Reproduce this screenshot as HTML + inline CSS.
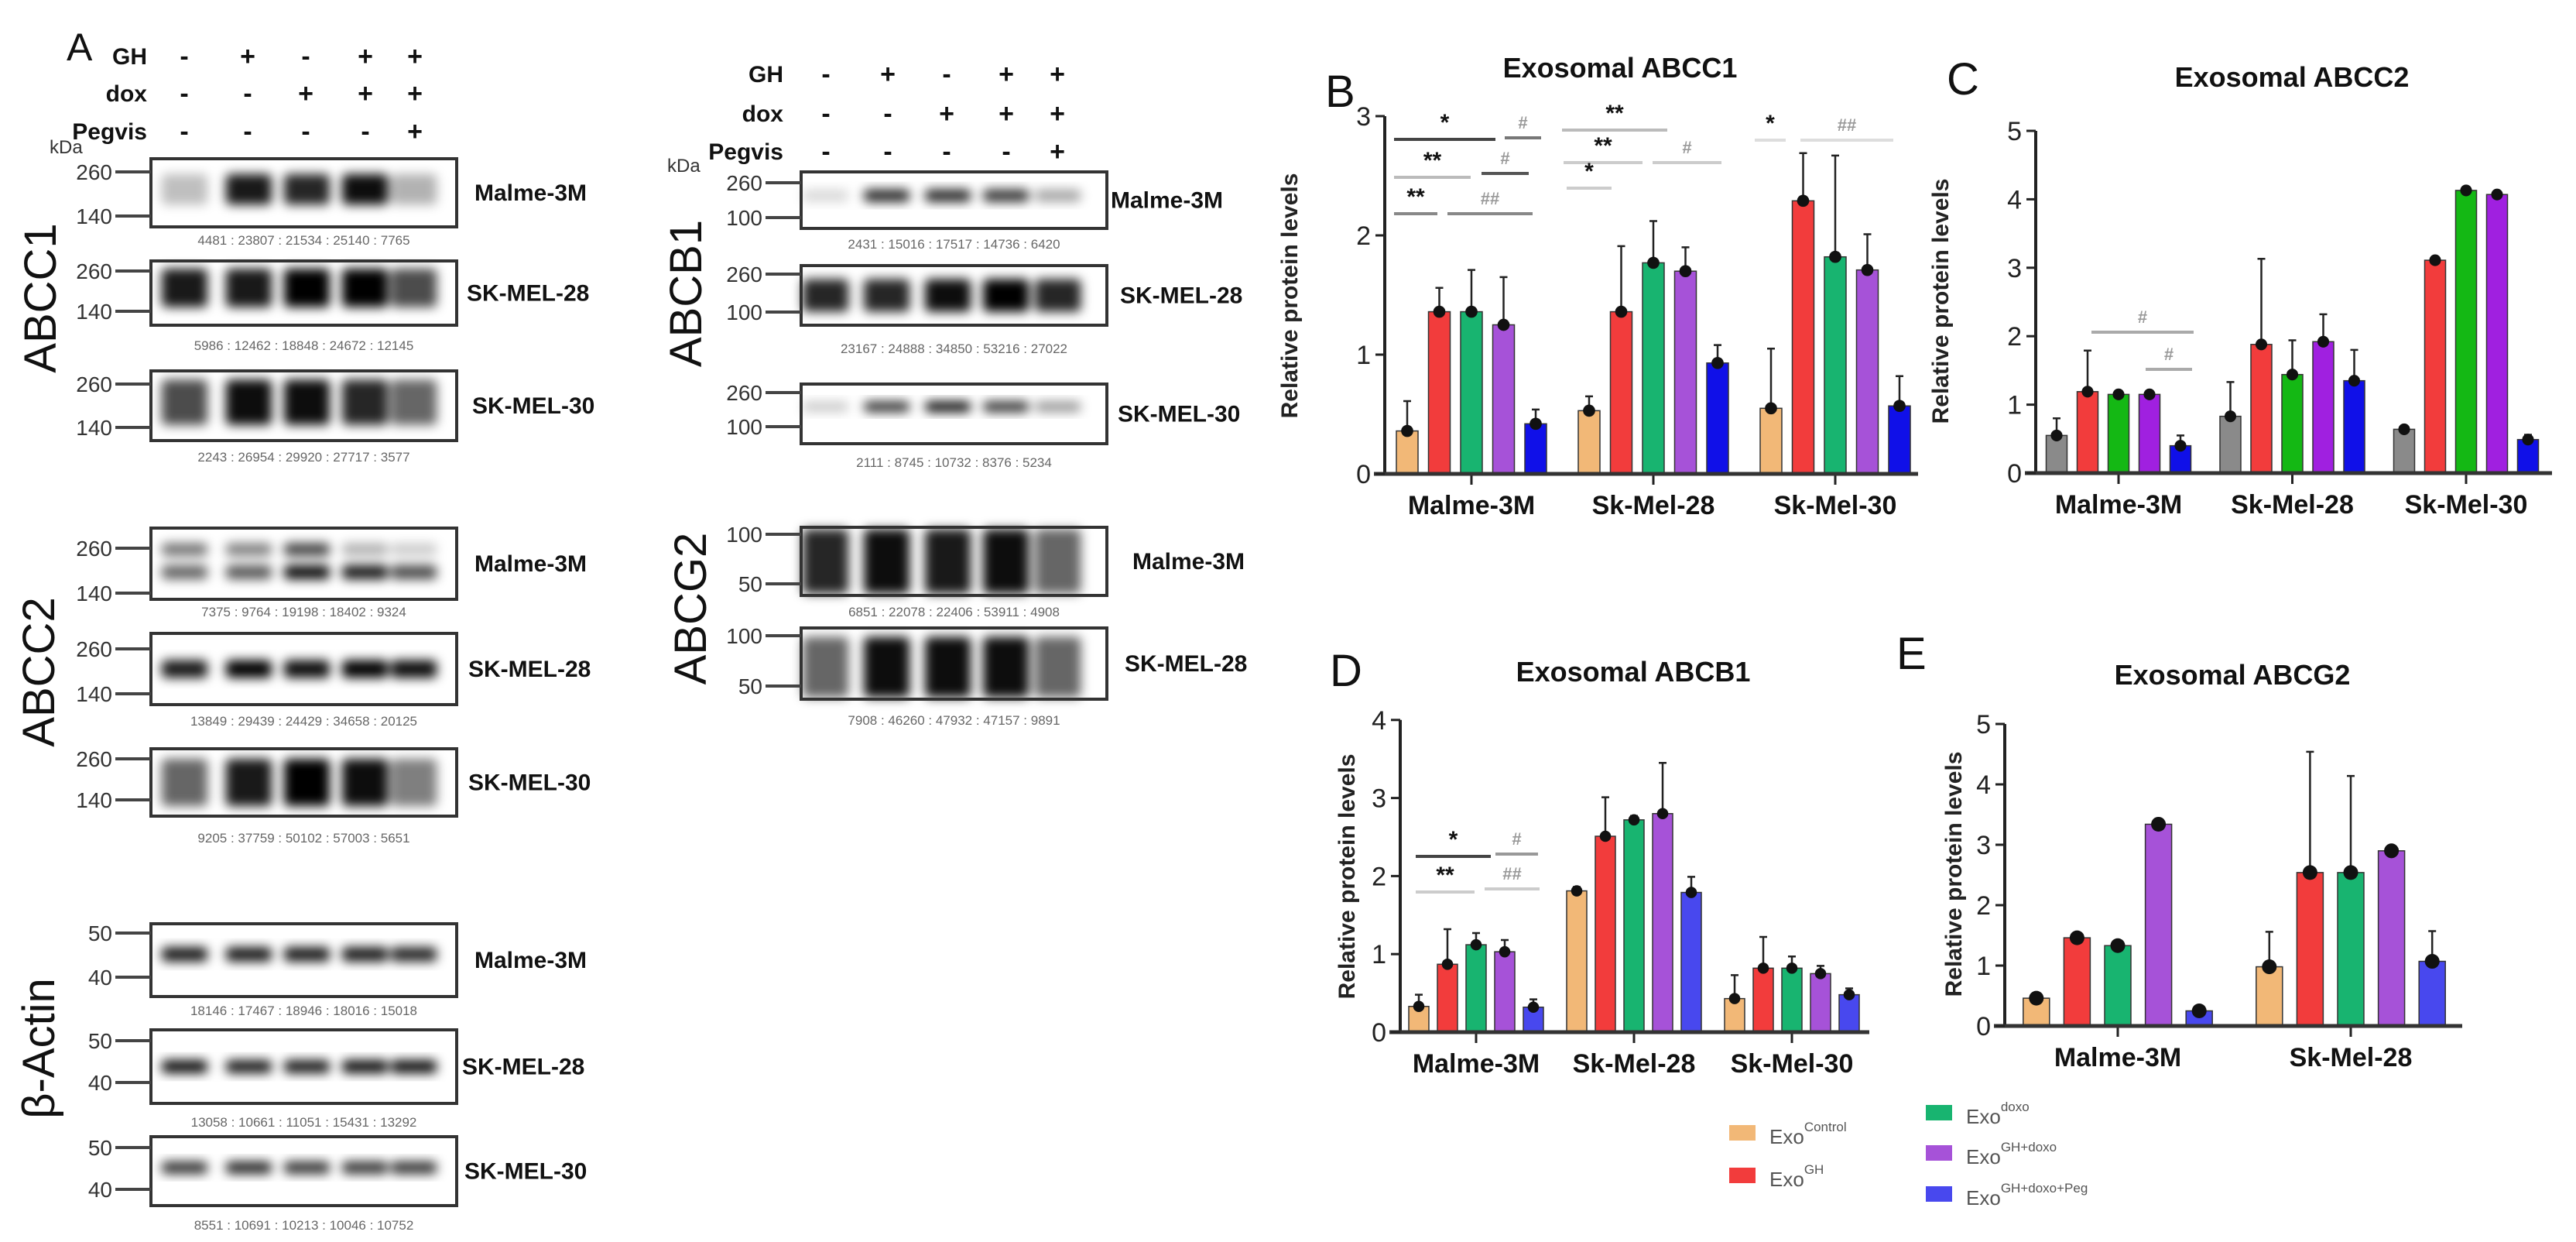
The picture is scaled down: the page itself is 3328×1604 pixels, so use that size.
<!DOCTYPE html>
<html><head><meta charset="utf-8">
<style>
html,body{margin:0;padding:0;background:#fff;}
svg{display:block;font-family:"Liberation Sans",Arial,sans-serif;}
</style></head>
<body>
<svg id="fig" xmlns="http://www.w3.org/2000/svg" width="3328" height="1604" viewBox="0 0 3328 1604">
<defs>
<filter id="blur" x="-30%" y="-60%" width="160%" height="220%"><feGaussianBlur stdDeviation="7"/></filter>
<clipPath id="dummy"><rect x="0" y="0" width="1" height="1"/></clipPath>
</defs>
<rect x="0" y="0" width="3328" height="1604" fill="#fff"/>
<g id="blots"></g>
<g id="charts"></g>
</svg>
<script>
// ===== Chart data =====
const B_categories = ["Malme-3M","Sk-Mel-28","Sk-Mel-30"];
const B_control = [0.36,0.53,0.55];
const B_gh      = [1.36,1.36,2.29];
const B_dox     = [1.36,1.77,1.82];
const B_ghdox   = [1.25,1.70,1.71];
const B_peg     = [0.42,0.93,0.57];
const B_sd = [[0.25,0.2,0.35,0.4,0.12],[0.12,0.55,0.35,0.2,0.15],[0.5,0.4,0.85,0.3,0.25]];
const B_ticks = ["0","1","2","3"];

const C_categories = ["Malme-3M","Sk-Mel-28","Sk-Mel-30"];
const C_control = [0.55,0.83,0.64];
const C_gh      = [1.19,1.88,3.11];
const C_dox     = [1.15,1.44,4.13];
const C_ghdox   = [1.15,1.92,4.07];
const C_peg     = [0.40,1.35,0.49];
const C_sd = [[0.25,0.6,0.05,0.05,0.15],[0.5,1.25,0.5,0.4,0.45],[0.05,0.05,0.05,0.03,0.07]];
const C_ticks = ["0","1","2","3","4","5"];

const D_categories = ["Malme-3M","Sk-Mel-28","Sk-Mel-30"];
const D_control = [0.33,1.81,0.43];
const D_gh      = [0.87,2.51,0.82];
const D_dox     = [1.12,2.72,0.82];
const D_ghdox   = [1.03,2.80,0.75];
const D_peg     = [0.32,1.79,0.48];
const D_sd = [[0.15,0.45,0.15,0.15,0.1],[0.05,0.5,0.05,0.65,0.2],[0.3,0.4,0.15,0.1,0.08]];
const D_ticks = ["0","1","2","3","4"];

const E_categories = ["Malme-3M","Sk-Mel-28"];
const E_control = [0.46,0.98];
const E_gh      = [1.46,2.54];
const E_dox     = [1.33,2.54];
const E_ghdox   = [3.34,2.90];
const E_peg     = [0.25,1.07];
const E_sd = [[0.05,0.08,0.05,0.05,0.08],[0.58,2.0,1.6,0.05,0.5]];
const E_ticks = ["0","1","2","3","4","5"];

const legendLabels = ["Control","GH","doxo","GH+doxo","GH+doxo+Peg"];

// ===== helpers =====
const NS="http://www.w3.org/2000/svg";
function mk(tag, attrs, parent, text){
  const e=document.createElementNS(NS,tag);
  for(const k in attrs) e.setAttribute(k,attrs[k]);
  if(text!==undefined) e.textContent=text;
  parent.appendChild(e); return e;
}
const charts=document.getElementById('charts');
const blots=document.getElementById('blots');

function drawChart(cfg, cats, series, sds, ticks){
  const g=mk('g',{},charts);
  
  
  const yScale=v=>cfg.y0 - v*cfg.ppu;
  const nT=ticks.length-1;
  // panel letter
  const L=mk('text',{x:cfg.letterX,y:cfg.letterY,'font-size':58,fill:'#111'},g,cfg.letter);
  
  
  const T=mk('text',{x:cfg.titleX,y:cfg.titleY,'font-size':36,'font-weight':'bold','text-anchor':'middle',fill:'#111'},g,cfg.title);
  
  
  const Y=mk('text',{x:0,y:0,'font-size':cfg.ylabSize,'font-weight':'bold','text-anchor':'middle',fill:'#222',transform:`translate(${cfg.ylabX},${cfg.ylabY}) rotate(-90)`},g,'Relative protein levels');
  
  
  // bars
  const nS=series.length;
  cats.forEach((c,gi)=>{
    const gc=cfg.g0+gi*cfg.gStep;
    series.forEach((s,si)=>{
      const v=s[gi];
      const cx=gc+(si-(nS-1)/2)*cfg.bStep;
      const col=(cfg.colorsByGroup&&cfg.colorsByGroup[si])?cfg.colorsByGroup[si]:cfg.colors[si];
      const r=mk('rect',{x:cx-cfg.bw/2,y:yScale(v),width:cfg.bw,height:cfg.y0-yScale(v),fill:col,stroke:'#333','stroke-width':1.5},g);
      
      
      const sd=sds[gi][si];
      const e=mk('path',{d:`M${cx},${yScale(v)} V${yScale(v+sd)} M${cx-5},${yScale(v+sd)} H${cx+5}`,stroke:'#222','stroke-width':2.5,fill:'none'},g);
      
      
      const d=mk('circle',{cx:cx,cy:yScale(v),r:cfg.bw*0.28,fill:'#111'},g);
      
      
    });
    const tk=mk('line',{x1:gc,x2:gc,y1:cfg.y0,y2:cfg.y0+14,stroke:'#222','stroke-width':3},g);
    
    
    const xl=mk('text',{x:gc,y:cfg.y0+52,'font-size':34,'font-weight':'bold','text-anchor':'middle',fill:'#111'},g,c);
    
    
  });
  // axes
  const ya=mk('line',{x1:cfg.ax,x2:cfg.ax,y1:yScale(nT),y2:cfg.y0,stroke:'#222','stroke-width':4},g);
  
  
  const xa=mk('line',{x1:cfg.ax-14,x2:cfg.xEnd,y1:cfg.y0,y2:cfg.y0,stroke:'#333','stroke-width':5},g);
  
  
  ticks.forEach((t,i)=>{
    const yy=yScale(i);
    mk('line',{x1:cfg.ax-12,x2:cfg.ax,y1:yy,y2:yy,stroke:'#222','stroke-width':3},g);
    const tl=mk('text',{x:cfg.ax-18,y:yy+12,'font-size':34,'text-anchor':'end',fill:'#222'},g,t);
    
    
  });
  // significance annotations
  (cfg.sig||[]).forEach(s=>{
    mk('line',{x1:s[0],x2:s[1],y1:s[2],y2:s[2],stroke:s[4],'stroke-width':4},g);
    const st=mk('text',{x:(s[0]+s[1])/2,y:s[2]-12,'font-size':s[3].indexOf('*')>=0?30:22,'font-weight':'bold','text-anchor':'middle',fill:s[3].indexOf('*')>=0?'#111':'#999'},g,s[3]);
    
    
  });
}

const stdColors=['#f2b877','#f23c3c','#18b470','#a652d8','#1010e8'];
drawChart({name:'chart-abcc1',letter:'B',letterX:1712,letterY:138,title:'Exosomal ABCC1',titleX:2093,titleY:100,
  ylabX:1676,ylabY:382,ylabSize:30,ax:1789,y0:612,ppu:154,xEnd:2478,g0:1901,gStep:235,bStep:41.5,bw:28,colors:stdColors,
  sig:[[1801,1932,180,'*','#444'],[1944,1991,178,'#','#777'],[1801,1900,229,'**','#bbb'],[1914,1975,224,'#','#555'],
       [1801,1857,276,'**','#888'],[1870,1980,276,'##','#888'],[2018,2154,168,'**','#bbb'],[2020,2122,210,'**','#ccc'],
       [2135,2224,210,'#','#ccc'],[2024,2082,243,'*','#ccc'],[2267,2307,181,'*','#ddd'],[2326,2446,181,'##','#ddd']]},
  B_categories,[B_control,B_gh,B_dox,B_ghdox,B_peg],B_sd,B_ticks);
drawChart({name:'chart-abcc2',letter:'C',letterX:2515,letterY:122,title:'Exosomal ABCC2',titleX:2961,titleY:112,
  ylabX:2517,ylabY:389,ylabSize:30,ax:2630,y0:611,ppu:88.4,xEnd:3297,g0:2737,gStep:224.5,bStep:40,bw:27,
  colors:['#8a8a8a','#f23c3c','#14b814','#a020e0','#1010e8'],
  sig:[[2702,2834,429,'#','#aaa'],[2772,2832,477,'#','#aaa']]},
  C_categories,[C_control,C_gh,C_dox,C_ghdox,C_peg],C_sd,C_ticks);
drawChart({name:'chart-abcb1',letter:'D',letterX:1718,letterY:886,title:'Exosomal ABCB1',titleX:2110,titleY:880,
  ylabX:1750,ylabY:1132,ylabSize:30,ax:1809,y0:1333,ppu:100.8,xEnd:2415,g0:1907,gStep:204,bStep:37,bw:26,
  colors:['#f2b877','#f23c3c','#18b470','#a652d8','#4848ee'],
  sig:[[1829,1926,1106,'*','#444'],[1932,1987,1103,'#','#999'],[1829,1905,1152,'**','#ccc'],[1918,1989,1148,'##','#ccc']]},
  D_categories,[D_control,D_gh,D_dox,D_ghdox,D_peg],D_sd,D_ticks);
drawChart({name:'chart-abcg2',letter:'E',letterX:2450,letterY:864,title:'Exosomal ABCG2',titleX:2884,titleY:884,
  ylabX:2534,ylabY:1129,ylabSize:30,ax:2590,y0:1325,ppu:78,xEnd:3181,g0:2736,gStep:301,bStep:52.6,bw:34,
  colors:['#f2b877','#f23c3c','#18b470','#a652d8','#4848ee'],sig:[]},
  E_categories,[E_control,E_gh,E_dox,E_ghdox,E_peg],E_sd,E_ticks);

// ===== legend =====
const legPos=[[2234,1463],[2234,1518],[2488,1437],[2488,1489],[2488,1542]];
const legCols=['#f2b877','#f23c3c','#18b470','#a652d8','#4848ee'];
legendLabels.forEach((lab,i)=>{
  const g=mk('g',{},charts);
  
  
  mk('rect',{x:legPos[i][0],y:legPos[i][1]-10,width:34,height:20,fill:legCols[i]},g);
  const t=mk('text',{x:legPos[i][0]+52,y:legPos[i][1]+14,'font-size':26,fill:'#555'},g,'Exo');
  mk('tspan',{dy:-16,'font-size':17},t,lab);
});

// ===== western blots =====
function blot(id,x,y,w,h,laneFr,bands,markers,label,labelX,nums,numY){
  const g=mk('g',{},blots);
  
  
  const inner=mk('g',{filter:'url(#blur)'},g);
  bands.forEach(b=>{
    laneFr.forEach((f,i)=>{
      const cx=x+f*w, lw=w*0.15;
      mk('rect',{x:cx-lw/2,y:y+h*(b.y-b.h/2),width:lw,height:h*b.h,rx:6,fill:'#000',opacity:b.o[i]},inner);
    });
  });
  mk('rect',{x:x,y:y,width:w,height:h,fill:'none',stroke:'#333','stroke-width':4},g);
  markers.forEach(m=>{
    mk('line',{x1:x-46,x2:x,y1:m[1],y2:m[1],stroke:'#444','stroke-width':4},g);
    const t=mk('text',{x:x-50,y:m[1]+10,'font-size':28,'text-anchor':'end',fill:'#333'},g,m[0]);
    
    
  });
  const lt=mk('text',{x:labelX,y:y+h/2+10,'font-size':30,'font-weight':'bold',fill:'#111'},g,label);
  
  
  const nt=mk('text',{x:x+w/2,y:numY,'font-size':17,'text-anchor':'middle',fill:'#666'},g,nums);
  
  
}
const LF=[0.11,0.32,0.51,0.70,0.86];
const MF=[0.08,0.28,0.48,0.67,0.84];
// Left column
blot('abcc1-malme',195,205,395,88,LF,[{y:.45,h:.45,o:[.25,.9,.85,.95,.3]}],[['260',222],['140',279]],'Malme-3M',613,'4481 : 23807 : 21534 : 25140 : 7765',316);
blot('abcc1-skmel28',195,337,395,83,LF,[{y:.42,h:.6,o:[.9,.9,1,1,.7]}],[['260',350],['140',402]],'SK-MEL-28',603,'5986 : 12462 : 18848 : 24672 : 12145',452);
blot('abcc1-skmel30',195,479,395,90,LF,[{y:.45,h:.65,o:[.7,.95,.95,.85,.6]}],[['260',496],['140',552]],'SK-MEL-30',610,'2243 : 26954 : 29920 : 27717 : 3577',596);
blot('abcc2-malme',195,682,395,92,LF,[{y:.3,h:.18,o:[.55,.5,.75,.3,.2]},{y:.62,h:.2,o:[.6,.65,.95,.9,.7]}],[['260',708],['140',766]],'Malme-3M',613,'7375 : 9764 : 19198 : 18402 : 9324',796);
blot('abcc2-skmel28',195,818,395,92,LF,[{y:.5,h:.25,o:[.9,1,.95,1,.95]}],[['260',838],['140',896]],'SK-MEL-28',605,'13849 : 29439 : 24429 : 34658 : 20125',937);
blot('abcc2-skmel30',195,967,395,87,LF,[{y:.5,h:.7,o:[.6,.9,1,.95,.5]}],[['260',980],['140',1033]],'SK-MEL-30',605,'9205 : 37759 : 50102 : 57003 : 5651',1088);
blot('actin-malme',195,1193,395,94,LF,[{y:.42,h:.2,o:[.9,.9,.9,.9,.85]}],[['50',1205],['40',1262]],'Malme-3M',613,'18146 : 17467 : 18946 : 18016 : 15018',1311);
blot('actin-skmel28',195,1330,395,95,LF,[{y:.5,h:.18,o:[.95,.9,.9,.95,.95]}],[['50',1344],['40',1398]],'SK-MEL-28',597,'13058 : 10661 : 11051 : 15431 : 13292',1455);
blot('actin-skmel30',195,1468,395,89,LF,[{y:.45,h:.18,o:[.8,.85,.8,.8,.8]}],[['50',1482],['40',1536]],'SK-MEL-30',600,'8551 : 10691 : 10213 : 10046 : 10752',1588);
// Middle column
blot('abcb1-malme',1035,222,395,73,MF,[{y:.42,h:.22,o:[.15,.85,.85,.8,.35]}],[['260',236],['100',281]],'Malme-3M',1435,'2431 : 15016 : 17517 : 14736 : 6420',321);
blot('abcb1-skmel28',1035,343,395,77,MF,[{y:.5,h:.55,o:[.85,.85,.95,1,.85]}],[['260',354],['100',403]],'SK-MEL-28',1447,'23167 : 24888 : 34850 : 53216 : 27022',456);
blot('abcb1-skmel30',1035,496,395,77,MF,[{y:.38,h:.18,o:[.2,.8,.95,.8,.4]}],[['260',507],['100',551]],'SK-MEL-30',1444,'2111 : 8745 : 10732 : 8376 : 5234',603);
blot('abcg2-malme',1035,681,395,88,MF,[{y:.5,h:.95,o:[.85,.95,.9,.95,.6]}],[['100',690],['50',754]],'Malme-3M',1463,'6851 : 22078 : 22406 : 53911 : 4908',796);
blot('abcg2-skmel28',1035,811,395,92,MF,[{y:.55,h:.85,o:[.6,.95,.95,.95,.6]}],[['100',821],['50',886]],'SK-MEL-28',1453,'7908 : 46260 : 47932 : 47157 : 9891',936);

// treatment headers
function header(x0,labX,cols,rows,name){
  const g=mk('g',{},blots);
  
  
  const names=['GH','dox','Pegvis'];
  const signs=[['-','+','-','+','+'],['-','-','+','+','+'],['-','-','-','-','+']];
  rows.forEach((ry,ri)=>{
    mk('text',{x:labX,y:ry+11,'font-size':30,'font-weight':'bold','text-anchor':'end',fill:'#111'},g,names[ri]);
    cols.forEach((cx,ci)=>{
      mk('text',{x:cx,y:ry+12,'font-size':34,'font-weight':'bold','text-anchor':'middle',fill:'#111'},g,signs[ri][ci]);
    });
  });
}
header(0,190,[238,320,395,472,536],[72,120,169],'treatment-header-left');
header(0,1012,[1067,1147,1223,1300,1366],[95,146,195],'treatment-header-middle');
mk('text',{x:86,y:78,'font-size':50,fill:'#111'},blots,'A');
mk('text',{x:64,y:198,'font-size':24,fill:'#333'},blots,'kDa');
mk('text',{x:862,y:222,'font-size':24,fill:'#333'},blots,'kDa');
function vlabel(x,y,t,size){
  const e=mk('text',{x:0,y:0,'font-size':size,'text-anchor':'middle',fill:'#111',transform:`translate(${x},${y}) rotate(-90)`},blots,t);
  
  
}
vlabel(72,385,'ABCC1',58);
vlabel(70,868,'ABCC2',58);
vlabel(70,1354,'β-Actin',58);
vlabel(906,379,'ABCB1',58);
vlabel(912,786,'ABCG2',58);
</script>
</body></html>
